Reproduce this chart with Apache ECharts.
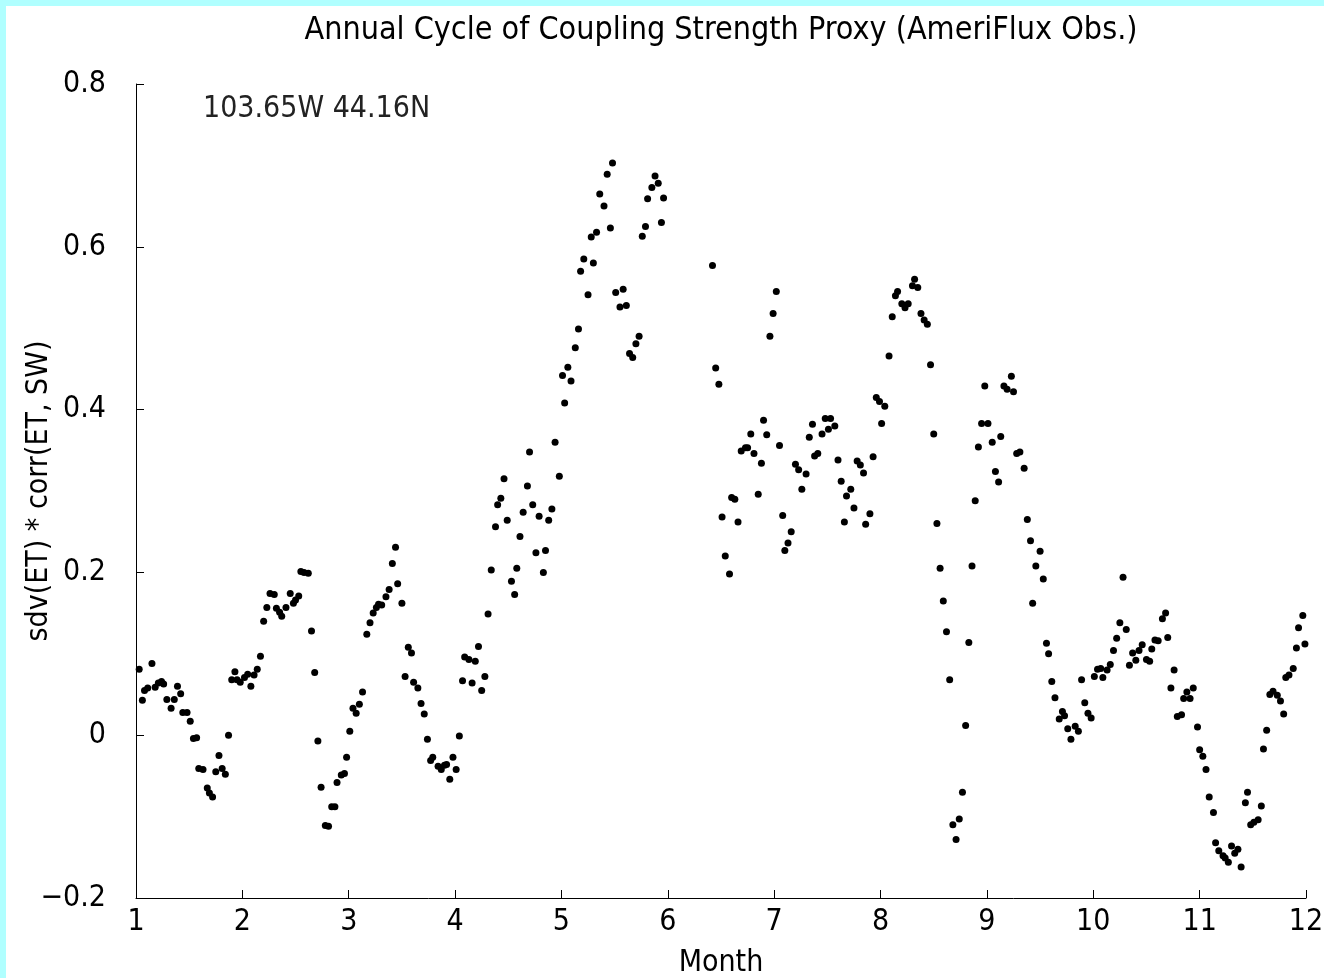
<!DOCTYPE html>
<html>
	<head>
		<meta charset="utf-8">
		<title>Annual Cycle of Coupling Strength Proxy</title>
		<script src="https://cdn.jsdelivr.net/npm/echarts@6/dist/echarts.min.js"></script>
		<style>
			body { margin: 0; background: #b0ffff; }
			#main { position: absolute; left: 6px; top: 6px; width: 1318px; height: 972px; background: #fff; }
		</style>
	</head>
	<body>
		<div id="main"></div>
		<script>
			// [month, sdv(ET)*corr(ET,SW)], one dot per day
			var jan = [[1.03,0.081],[1.06,0.043],[1.08,0.055],[1.11,0.058],[1.15,0.088],[1.18,0.059],[1.21,0.064],[1.24,0.066],[1.26,0.063],[1.29,0.044],[1.33,0.033],[1.36,0.044],[1.39,0.060],[1.42,0.051],[1.44,0.028],[1.48,0.028],[1.51,0.017],[1.54,-0.004],[1.57,-0.003],[1.59,-0.041],[1.63,-0.042],[1.67,-0.065],[1.69,-0.071],[1.72,-0.076],[1.75,-0.045],[1.78,-0.025],[1.81,-0.041],[1.84,-0.048],[1.87,0.000],[1.90,0.068],[1.93,0.078],[1.95,0.068],[1.98,0.065]];
			var feb = [[2.02,0.071],[2.05,0.075],[2.08,0.060],[2.11,0.074],[2.14,0.081],[2.17,0.097],[2.20,0.140],[2.23,0.157],[2.26,0.174],[2.30,0.173],[2.32,0.156],[2.35,0.151],[2.37,0.146],[2.41,0.157],[2.45,0.174],[2.48,0.162],[2.50,0.166],[2.53,0.171],[2.55,0.201],[2.58,0.200],[2.62,0.199],[2.65,0.128],[2.68,0.077],[2.71,-0.007],[2.74,-0.064],[2.78,-0.111],[2.81,-0.112],[2.84,-0.088],[2.87,-0.088],[2.89,-0.058],[2.93,-0.049],[2.96,-0.047],[2.98,-0.027]];
			var mar = [[3.01,0.005],[3.04,0.033],[3.07,0.027],[3.10,0.038],[3.13,0.053],[3.17,0.124],[3.20,0.138],[3.23,0.150],[3.26,0.157],[3.28,0.161],[3.31,0.160],[3.35,0.170],[3.38,0.179],[3.41,0.211],[3.44,0.231],[3.46,0.186],[3.50,0.162],[3.53,0.072],[3.56,0.108],[3.59,0.101],[3.61,0.065],[3.65,0.058],[3.68,0.039],[3.71,0.026],[3.74,-0.005],[3.77,-0.031],[3.79,-0.027],[3.84,-0.038],[3.87,-0.042],[3.90,-0.037],[3.92,-0.036],[3.95,-0.054],[3.98,-0.027]];
			var apr = [[4.01,-0.042],[4.04,-0.001],[4.07,0.067],[4.09,0.096],[4.13,0.093],[4.16,0.064],[4.19,0.091],[4.22,0.109],[4.25,0.055],[4.28,0.072],[4.31,0.149],[4.34,0.203],[4.38,0.256],[4.40,0.283],[4.43,0.291],[4.46,0.315],[4.49,0.264],[4.53,0.189],[4.56,0.173],[4.58,0.205],[4.61,0.244],[4.64,0.274],[4.68,0.306],[4.70,0.348],[4.73,0.283],[4.76,0.224],[4.79,0.269],[4.83,0.200],[4.85,0.227],[4.88,0.264],[4.91,0.278],[4.94,0.360],[4.98,0.318]];
			var may = [[5.01,0.442],[5.03,0.408],[5.06,0.452],[5.09,0.435],[5.13,0.476],[5.16,0.499],[5.18,0.570],[5.21,0.585],[5.25,0.541],[5.28,0.612],[5.30,0.580],[5.33,0.618],[5.36,0.665],[5.40,0.650],[5.43,0.689],[5.46,0.623],[5.48,0.703],[5.51,0.544],[5.55,0.526],[5.58,0.548],[5.61,0.528],[5.64,0.469],[5.67,0.464],[5.70,0.481],[5.73,0.490],[5.76,0.613],[5.79,0.625],[5.81,0.659],[5.85,0.673],[5.88,0.687],[5.91,0.678],[5.94,0.630],[5.96,0.660]];
			var jun = [[6.42,0.577],[6.45,0.451],[6.48,0.431],[6.51,0.268],[6.54,0.220],[6.58,0.198],[6.60,0.292],[6.63,0.290],[6.66,0.262],[6.69,0.349],[6.73,0.353],[6.75,0.353],[6.78,0.370],[6.81,0.346],[6.85,0.296],[6.88,0.334],[6.90,0.387],[6.93,0.369],[6.96,0.490],[6.99,0.518]];
			var jul = [[7.02,0.545],[7.05,0.356],[7.08,0.270],[7.10,0.227],[7.13,0.236],[7.16,0.250],[7.20,0.333],[7.23,0.326],[7.26,0.302],[7.30,0.321],[7.33,0.366],[7.36,0.382],[7.38,0.343],[7.41,0.346],[7.45,0.370],[7.48,0.389],[7.51,0.376],[7.53,0.389],[7.57,0.380],[7.60,0.338],[7.63,0.312],[7.66,0.262],[7.68,0.294],[7.72,0.302],[7.75,0.279],[7.78,0.337],[7.81,0.332],[7.84,0.322],[7.86,0.259],[7.90,0.272],[7.93,0.342],[7.96,0.415],[7.99,0.410]];
			var aug = [[8.01,0.383],[8.04,0.404],[8.08,0.466],[8.11,0.514],[8.14,0.540],[8.16,0.545],[8.20,0.530],[8.23,0.525],[8.26,0.530],[8.30,0.552],[8.32,0.560],[8.35,0.550],[8.38,0.518],[8.41,0.510],[8.44,0.505],[8.47,0.455],[8.50,0.370],[8.53,0.260],[8.56,0.205],[8.59,0.165],[8.62,0.127],[8.65,0.068],[8.68,-0.110],[8.71,-0.128],[8.74,-0.103],[8.77,-0.070],[8.80,0.012],[8.83,0.114],[8.86,0.208],[8.89,0.288],[8.92,0.354],[8.95,0.383],[8.98,0.429]];
			var sep = [[9.01,0.383],[9.05,0.360],[9.08,0.324],[9.11,0.311],[9.13,0.367],[9.16,0.429],[9.19,0.425],[9.23,0.441],[9.25,0.422],[9.28,0.346],[9.31,0.348],[9.35,0.328],[9.38,0.265],[9.41,0.239],[9.43,0.162],[9.46,0.208],[9.50,0.226],[9.53,0.192],[9.56,0.113],[9.58,0.100],[9.61,0.066],[9.64,0.046],[9.68,0.020],[9.71,0.029],[9.73,0.024],[9.76,0.008],[9.79,-0.005],[9.83,0.011],[9.86,0.005],[9.89,0.068],[9.92,0.040],[9.95,0.027],[9.98,0.021]];
			var oct = [[10.01,0.072],[10.04,0.081],[10.07,0.082],[10.09,0.071],[10.13,0.080],[10.16,0.087],[10.19,0.104],[10.22,0.119],[10.25,0.138],[10.28,0.194],[10.31,0.130],[10.34,0.086],[10.37,0.101],[10.40,0.092],[10.43,0.104],[10.46,0.111],[10.50,0.093],[10.53,0.091],[10.55,0.106],[10.58,0.117],[10.61,0.116],[10.65,0.143],[10.68,0.150],[10.70,0.120],[10.73,0.058],[10.76,0.080],[10.79,0.023],[10.83,0.025],[10.85,0.045],[10.88,0.053],[10.91,0.045],[10.94,0.058],[10.98,0.010]];
			var nov = [[11.00,-0.018],[11.03,-0.026],[11.06,-0.042],[11.09,-0.076],[11.13,-0.095],[11.15,-0.132],[11.18,-0.142],[11.22,-0.148],[11.24,-0.151],[11.27,-0.156],[11.30,-0.136],[11.33,-0.145],[11.36,-0.140],[11.39,-0.162],[11.43,-0.083],[11.45,-0.070],[11.48,-0.110],[11.51,-0.107],[11.55,-0.104],[11.58,-0.087],[11.60,-0.017],[11.63,0.006],[11.66,0.050],[11.69,0.054],[11.73,0.049],[11.76,0.042],[11.79,0.026],[11.81,0.071],[11.84,0.074],[11.88,0.082],[11.91,0.107],[11.93,0.132],[11.97,0.147],[11.99,0.112]];

			var monthTicks = [1, 2, 3, 4, 5, 6, 7, 8, 9, 10, 11, 12];
			var yTicks = [-0.2, 0, 0.2, 0.4, 0.6, 0.8];

			var points = [].concat(jan, feb, mar, apr, may, jun, jul, aug, sep, oct, nov);
			var font = '"DejaVu Sans Condensed", "Liberation Sans", sans-serif';

			var myChart = echarts.init(document.getElementById('main'));
			var option = {
				animation: false,
				backgroundColor: '#fff',
				title: {
					text: 'Annual Cycle of Coupling Strength Proxy (AmeriFlux Obs.)',
					left: 710,
					top: 4,
					textAlign: 'center',
					textStyle: { fontFamily: font, fontSize: 32, fontWeight: 'normal', color: '#000' }
				},
				graphic: [{
					type: 'text',
					left: 197,
					top: 88,
					style: { text: '103.65W 44.16N', fontFamily: font, fontSize: 30, fill: '#222' }
				}],
				grid: { left: 130, right: 18, top: 78, bottom: 80, outerBoundsMode: 'none', containLabel: false },
				xAxis: {
					type: 'value',
					min: monthTicks[0],
					max: monthTicks[monthTicks.length - 1],
					interval: 1,
					name: 'Month',
					nameLocation: 'middle',
					nameGap: 50,
					nameMoveOverlap: false,
					nameTextStyle: { fontFamily: font, fontSize: 30, color: '#000' },
					axisLine: { onZero: false, lineStyle: { color: '#000', width: 1 } },
					axisTick: { inside: true, length: 8, lineStyle: { color: '#000' } },
					axisLabel: { margin: 9, fontFamily: font, fontSize: 30, color: '#000' },
					splitLine: { show: false }
				},
				yAxis: {
					type: 'value',
					min: yTicks[0],
					max: yTicks[yTicks.length - 1],
					interval: 0.2,
					name: 'sdv(ET) * corr(ET, SW)',
					nameLocation: 'middle',
					nameRotate: 90,
					nameGap: 82,
					nameMoveOverlap: false,
					nameTextStyle: { fontFamily: font, fontSize: 30, color: '#000' },
					axisLine: { show: true, onZero: false, lineStyle: { color: '#000', width: 1 } },
					axisTick: { show: true, inside: true, length: 8, lineStyle: { color: '#000' } },
					axisLabel: {
						margin: 30,
						fontFamily: font,
						fontSize: 30,
						color: '#000',
						formatter: function (v) {
							var r = Math.round(v * 10) / 10;
							if (r === 0) return '0';
							return (r < 0 ? '\u2212' : '') + Math.abs(r).toFixed(1);
						}
					},
					splitLine: { show: false }
				},
				series: [{
					name: 'coupling',
					type: 'scatter',
					data: points,
					symbol: 'circle',
					symbolSize: 7,
					itemStyle: { color: '#000', opacity: 1 }
				}]
			};
			myChart.setOption(option);
		</script>
	</body>
</html>
